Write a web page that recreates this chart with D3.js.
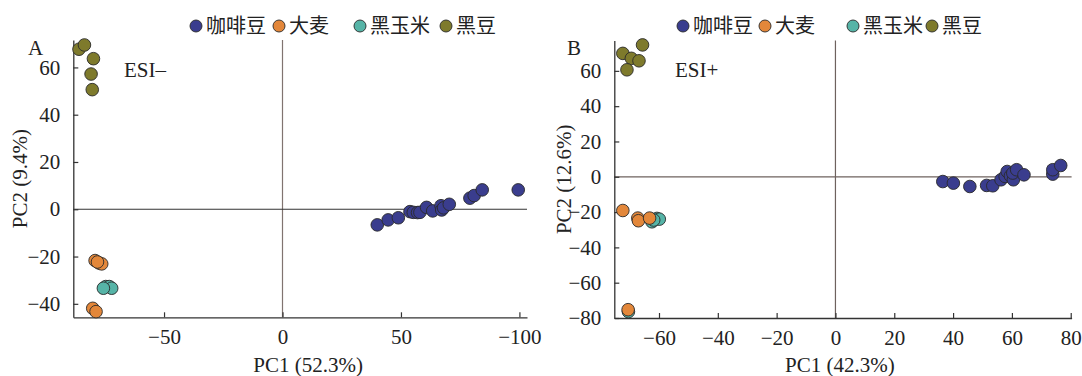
<!DOCTYPE html>
<html><head><meta charset="utf-8">
<script src="https://cdn.jsdelivr.net/npm/d3@7"></script>
<style>
body{margin:0;background:#fff}
text{font-family:"Liberation Serif","Times New Roman","Noto Sans CJK SC",serif;fill:#222}
.cjk{font-family:"Liberation Serif","Noto Sans CJK SC",serif}
</style>
</head><body>
<svg id="c" width="1082" height="376"></svg>
<script>
// ---- data ----
const groups = ["咖啡豆", "大麦", "黑玉米", "黑豆"];

// Panel A (ESI–): [PC1, PC2]
const coffeeA = [[40.0,-6.6],[44.6,-4.5],[48.9,-3.6],[53.8,-1.0],[55.2,-1.3],[57.0,-1.4],[58.0,-1.3],[60.8,0.8],[63.4,-0.7],[66.9,1.5],[67.2,-0.3],[68.0,0.6],[70.4,2.1],[79.1,4.7],[80.9,5.8],[84.3,8.2],[99.5,8.2]];
const barleyA = [[-79.1,-21.7],[-77.3,-22.8],[-76.3,-23.1],[-78.1,-22.3],[-80.1,-41.9],[-78.7,-43.3]];
const cornA   = [[-74.6,-32.7],[-73.1,-32.7],[-72.1,-33.4],[-75.6,-33.4]];
const soyA    = [[-85.9,67.7],[-83.6,69.5],[-79.8,63.7],[-80.8,57.2],[-80.3,50.6]];

// Panel B (ESI+): [PC1, PC2]
const coffeeB = [[36.5,-2.7],[40.1,-3.6],[45.7,-5.5],[51.4,-4.9],[53.5,-5.1],[56.3,-1.7],[57.7,0.2],[58.4,3.0],[59.5,0.5],[60.5,-1.7],[60.3,2.1],[61.6,4.0],[64.1,1.1],[73.9,1.5],[73.9,4.0],[76.6,6.4]];
const barleyB = [[-72.3,-19.1],[-67.2,-23.4],[-67.0,-24.9],[-63.2,-23.4],[-70.5,-75.3]];
const cornB   = [[-62.4,-25.5],[-60.7,-23.6],[-59.9,-24.0],[-61.8,-24.5],[-70.4,-76.4]];
const soyB    = [[-72.3,69.9],[-69.4,67.1],[-66.8,65.7],[-65.6,74.7],[-70.9,60.6]];

// tick values / labels
const xTicksA = [-50, 0, 50, 100];
const xTickLabelsA = ["−50", "0", "50", "−100"];
const yTicksA = [-40, -20, 0, 20, 40, 60];
const xTicksB = [-60, -40, -20, 0, 20, 40, 60, 80];
const yTicksB = [-80, -60, -40, -20, 0, 20, 40, 60];

const colors = ["#3a3d8e", "#e3873a", "#56b4a7", "#7e7a2c"];

const svg = d3.select("#c");
const fmt = v => v < 0 ? "−" + Math.abs(v) : String(v);

function panel(o) {
  const x = d3.scaleLinear().domain(o.xd).range(o.xr);
  const y = d3.scaleLinear().domain(o.yd).range(o.yr);
  const g = svg.append("g");

  // zero lines
  g.append("line").attr("x1", x(0)).attr("x2", x(0)).attr("y1", o.yr[1]).attr("y2", o.yr[0])
    .attr("stroke", o.vCol).attr("stroke-width", 1.2);
  g.append("line").attr("x1", o.xr[0]).attr("x2", o.xr[1]).attr("y1", y(0)).attr("y2", y(0))
    .attr("stroke", o.hCol).attr("stroke-width", 1.2);

  // axes
  const ax = g.append("g").attr("transform", `translate(0,${o.yr[0]})`)
    .call(d3.axisBottom(x).tickValues(o.xt).tickFormat((d, i) => o.xl ? o.xl[i] : fmt(d))
      .tickSize(-5).tickSizeOuter(0).tickPadding(12));
  const ay = g.append("g").attr("transform", `translate(${o.xr[0]},0)`)
    .call(d3.axisLeft(y).tickValues(o.yt).tickFormat(fmt).tickSize(-5).tickSizeOuter(0).tickPadding(13));
  [ax, ay].forEach(a => {
    a.selectAll("path.domain").attr("stroke", "#333").attr("stroke-width", 1.3);
    a.selectAll(".tick line").attr("stroke", "#333").attr("stroke-width", 1.2);
    a.selectAll("text").style("font-size", "21px").attr("fill", "#222")
      .style("font-family", '"Liberation Serif","Times New Roman",serif');
  });

  // points
  o.series.forEach(s => {
    g.append("g").selectAll("circle").data(s.data).join("circle")
      .attr("cx", d => x(d[0])).attr("cy", d => y(d[1])).attr("r", 6.3)
      .attr("fill", colors[s.k]).attr("stroke", "#2a2a2a").attr("stroke-width", 0.9);
  });

  // labels
  g.append("text").attr("x", o.letter[1]).attr("y", 55).style("font-size", "21px").text(o.letter[0]);
  g.append("text").attr("x", o.esi[1]).attr("y", 77).style("font-size", "21px").text(o.esi[0]);
  g.append("text").attr("x", (o.xr[0] + o.xr[1]) / 2 + o.xtOff).attr("y", 372).attr("text-anchor", "middle")
    .style("font-size", "21px").text(o.xTitle);
  g.append("text").attr("transform", `translate(${o.ytX},${(o.yr[0] + o.yr[1]) / 2}) rotate(-90)`)
    .attr("text-anchor", "middle").attr("dy", "0.35em").style("font-size", "21px").text(o.yTitle);

  // legend
  groups.forEach((name, i) => {
    const lx = o.legX[i];
    g.append("circle").attr("cx", lx).attr("cy", 26).attr("r", 6)
      .attr("fill", colors[i]).attr("stroke", "#2a2a2a").attr("stroke-width", 0.9);
    g.append("text").attr("class", "cjk").attr("x", lx + 10).attr("y", 33)
      .style("font-size", "20px").text(name);
  });
}

panel({
  xd: [-88.3, 103.2], xr: [73.3, 527], yd: [-45.7, 71.6], yr: [317.3, 40],
  xt: xTicksA, xl: xTickLabelsA, yt: yTicksA,
  vCol: "#807470", hCol: "#333",
  series: [{k: 0, data: coffeeA}, {k: 2, data: cornA}, {k: 1, data: barleyA}, {k: 3, data: soyA}],
  letter: ["A", 28], esi: ["ESI–", 124], xTitle: "PC1 (52.3%)", xtOff: 8, yTitle: "PC2 (9.4%)", ytX: 20,
  legX: [196, 279, 360, 446]
});
panel({
  xd: [-75.2, 80.3], xr: [614.3, 1071.6], yd: [-80, 77.2], yr: [318, 40.5],
  xt: xTicksB, yt: yTicksB,
  vCol: "#6e625e", hCol: "#6e625e",
  series: [{k: 0, data: coffeeB}, {k: 2, data: cornB}, {k: 1, data: barleyB}, {k: 3, data: soyB}],
  letter: ["B", 567], esi: ["ESI+", 675], xTitle: "PC1 (42.3%)", xtOff: -3, yTitle: "PC2 (12.6%)", ytX: 564,
  legX: [683, 765, 853, 932]
});
</script>
</body></html>
